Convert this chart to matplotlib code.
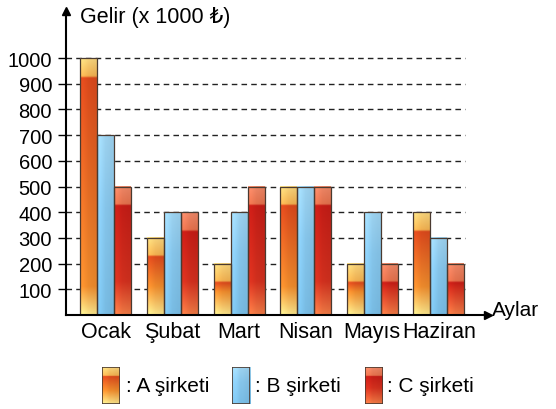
import numpy as np
import matplotlib.pyplot as plt
from matplotlib.colors import to_rgb
from matplotlib.patches import Rectangle

plt.rcParams['font.family'] = ['Liberation Sans', 'DejaVu Sans']

months = ['Ocak', 'Şubat', 'Mart', 'Nisan', 'Mayıs', 'Haziran']
a_vals = [1000, 300, 200, 500, 200, 400]
b_vals = [700, 400, 400, 500, 400, 300]
c_vals = [500, 400, 500, 500, 200, 200]
yticks = [100, 200, 300, 400, 500, 600, 700, 800, 900, 1000]
labels = [': A şirketi', ': B şirketi', ': C şirketi']


def stops_a(h):
    return [(0, '#f8e48a'), (min(110, h * 0.45), '#ec8a2c'), (h - 75, '#d8481c'),
            (h - 68, '#f0b050'), (h, '#f7d47c')]


def stops_b(h):
    return [(0, '#78bce4'), (h * 0.6, '#86c5ea'), (h, '#9dd2ef')]


def stops_c(h):
    return [(0, '#ee7a45'), (min(130, h * 0.5), '#d0301e'), (h - 75, '#c21c16'),
            (h - 68, '#e2704c'), (h, '#ec8666')]


def grad(stops, n=200):
    h = stops[-1][0]
    ys = np.linspace(0, h, n)
    pos = [s[0] for s in stops]
    cols = np.array([to_rgb(s[1]) for s in stops])
    img = np.stack([np.interp(ys, pos, cols[:, k]) for k in range(3)], axis=-1)
    # slight lighter left edge
    shade = np.array([1.08, 1.0, 0.97])
    img = np.clip(img[:, None, :] * shade[None, :, None], 0, 1)
    return img


fig = plt.figure(figsize=(5.56, 4.10), dpi=100)
ax = fig.add_axes([66 / 556, 94 / 410, 422 / 556, 304 / 410])

x = np.arange(len(months))
w = 0.255
edge = '#4a3a30'
for i in range(len(months)):
    for j, (vals, sf) in enumerate([(a_vals, stops_a), (b_vals, stops_b), (c_vals, stops_c)]):
        h = vals[i]
        xc = x[i] + (j - 1) * w
        ax.imshow(grad(sf(h)), extent=(xc - w / 2, xc + w / 2, 0, h),
                  origin='lower', aspect='auto', zorder=2, interpolation='bilinear')
        ax.bar(xc, h, w, fill=False, edgecolor=edge, lw=0.9, zorder=3)

ax.hlines(yticks, -0.6, 5.39, colors='#222222', linestyles=(0, (4, 3)), lw=1.0, zorder=1)

ax.set_xlim(-0.6, 5.74)
ax.set_ylim(0, 1183)
ax.set_yticks(yticks)
ax.set_xticks(x)
ax.set_xticklabels(months, fontsize=15.5)
ax.tick_params(axis='y', direction='out', length=6, width=1, pad=4, labelsize=14.5)
ax.tick_params(axis='x', length=0, pad=4)
for s in ['top', 'right']:
    ax.spines[s].set_visible(False)
for s in ['left', 'bottom']:
    ax.spines[s].set_linewidth(1.5)
    ax.spines[s].set_zorder(4)

ax.plot(-0.6, 1183, marker='^', color='black', markersize=6, clip_on=False, zorder=5)
ax.plot(5.74, 0, marker='>', color='black', markersize=6, clip_on=False, zorder=5)

fig.text(80 / 556, 1 - 18 / 410, 'Gelir (x 1000 ₺)', fontsize=15.5, va='center', ha='left')
fig.text(492 / 556, 1 - 311 / 410, 'Aylar', fontsize=15, va='center', ha='left')

# legend
sw_x = [102, 232, 365]
tx_x = [126, 255, 387]
for k, sf in enumerate([stops_a, stops_b, stops_c]):
    lax = fig.add_axes([sw_x[k] / 556, 1 - 405 / 410, 18 / 556, 37 / 410])
    lax.imshow(grad(sf(300)), extent=(0, 1, 0, 300), origin='lower', aspect='auto')
    lax.add_patch(Rectangle((0, 0), 1, 300, fill=False, edgecolor=edge, lw=1.2))
    lax.set_xlim(0, 1)
    lax.set_ylim(0, 300)
    lax.axis('off')
    fig.text(tx_x[k] / 556, 1 - 387 / 410, labels[k], fontsize=15, va='center', ha='left')

fig.savefig('out.png', dpi=100)
